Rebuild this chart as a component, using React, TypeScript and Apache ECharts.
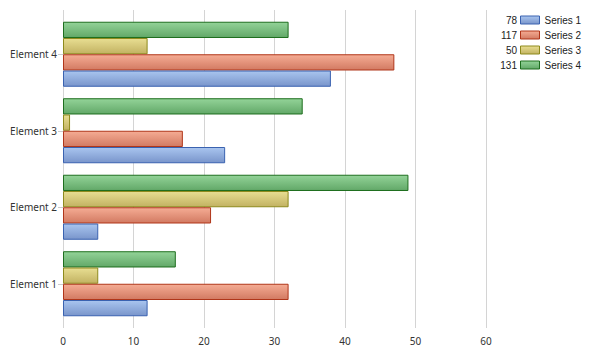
import React, { useEffect, useRef } from "react";
import * as echarts from "echarts";

const categories = ["Element 1", "Element 2", "Element 3", "Element 4"];
const seriesNames = ["Series 1", "Series 2", "Series 3", "Series 4"];
const series1 = [12, 5, 23, 38];
const series2 = [32, 21, 17, 47];
const series3 = [5, 32, 1, 12];
const series4 = [16, 49, 34, 32];
const xTicks = [0, 10, 20, 30, 40, 50, 60];

const palette = [
  { top: "#a9c5ef", bottom: "#7995cb", border: "#3a62b0" },
  { top: "#f5ac94", bottom: "#d27a62", border: "#b0361a" },
  { top: "#e8de92", bottom: "#c2b262", border: "#8e8a1c" },
  { top: "#93d398", bottom: "#62a868", border: "#1e6e1e" },
];

export default function App() {
  const ref = useRef<HTMLDivElement>(null);
  useEffect(() => {
    if (!ref.current) return;
    const chart = echarts.init(ref.current, null, { renderer: "svg" });
    const all = [series1, series2, series3, series4];
    const grad = (i: number) =>
      new echarts.graphic.LinearGradient(0, 0, 0, 1, [
        { offset: 0, color: palette[i].top },
        { offset: 1, color: palette[i].bottom },
      ]);
    const sums = all.map((s) => s.reduce((a, b) => a + b, 0));
    const font = "Noto Sans";
    const order = [3, 2, 1, 0];
    chart.setOption({
      animation: false,
      backgroundColor: "#ffffff",
      grid: [
        { left: 63, right: 105, top: 16, bottom: 32 },
        { left: 63, right: 105, top: 10, bottom: 26 },
      ],
      xAxis: [
        { gridIndex: 0, type: "value", min: 0, max: 60, interval: 10, show: false },
        {
          gridIndex: 1,
          type: "value",
          min: xTicks[0],
          max: xTicks[xTicks.length - 1],
          interval: 10,
          axisLine: { show: false },
          axisTick: { show: false },
          splitLine: { show: true, lineStyle: { color: "#d4d4d4", width: 1 } },
          axisLabel: { color: "#333", fontSize: 10, fontFamily: font, margin: 8 },
        },
      ],
      yAxis: [
        {
          gridIndex: 0,
          type: "category",
          data: categories,
          axisLine: { show: false },
          axisTick: { show: true, alignWithLabel: true, length: 5, lineStyle: { color: "#cccccc" } },
          axisLabel: { color: "#333", fontSize: 10, fontFamily: font, margin: 6 },
          splitLine: { show: false },
        },
        { gridIndex: 1, type: "value", show: false, min: 0, max: 1 },
      ],
      legend: {
        orient: "vertical",
        left: 520,
        top: 15,
        padding: 0,
        itemWidth: 19,
        itemHeight: 8,
        itemGap: 5,
        textStyle: { fontFamily: "Liberation Sans", fontSize: 10, color: "#222", lineHeight: 10 },
        data: seriesNames.map((n, i) => ({
          name: n,
          icon: "rect",
          itemStyle: { color: grad(i), borderColor: palette[i].border, borderWidth: 1 },
        })),
      },
      graphic: sums.map((s, i) => ({
        type: "text",
        x: 517,
        y: 20 + i * 15,
        style: {
          text: String(s),
          fontFamily: "Liberation Sans",
          fontSize: 10,
          fill: "#222",
          textAlign: "right",
          textVerticalAlign: "middle",
        },
      })),
      series: order.map((i) => ({
        name: seriesNames[i],
        type: "bar",
        xAxisIndex: 0,
        yAxisIndex: 0,
        data: all[i],
        barGap: "0%",
        barCategoryGap: "15%",
        itemStyle: { color: grad(i), borderColor: palette[i].border, borderWidth: 1 },
      })),
    });
    return () => chart.dispose();
  }, []);
  return <div ref={ref} style={{ width: 591, height: 354, margin: -8 }} />;
}
